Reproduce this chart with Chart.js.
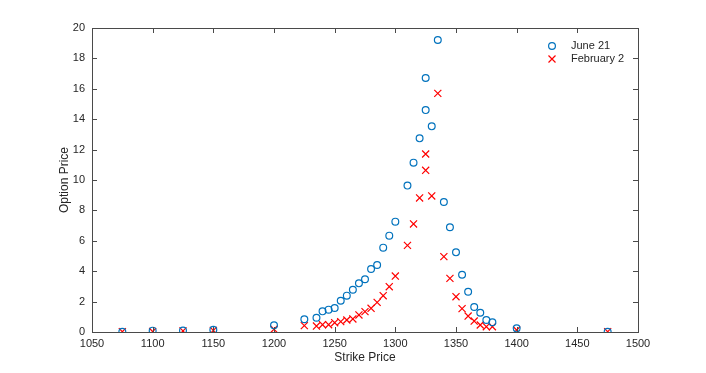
<!DOCTYPE html>
<html>
<head>
<meta charset="utf-8">
<script src="https://cdn.jsdelivr.net/npm/chart.js@4/dist/chart.umd.min.js"></script>
<style>
  html, body { margin: 0; padding: 0; background: #fff; }
  #wrap { width: 706px; height: 373px; }
</style>
</head>
<body>
<div id="wrap"><canvas id="chart"></canvas></div>
<script>
// strike prices (x) and option prices for the two dates
const strikes = [1075, 1100, 1125, 1150, 1200, 1225, 1235, 1240, 1245, 1250, 1255, 1260, 1265, 1270, 1275,
  1280, 1285, 1290, 1295, 1300, 1310, 1315, 1320, 1325, 1325, 1330, 1335, 1340, 1345, 1350, 1355,
  1360, 1365, 1370, 1375, 1380, 1400, 1475];
const june21 = [0.02, 0.09, 0.10, 0.14, 0.44, 0.84, 0.94, 1.36, 1.47, 1.58, 2.06, 2.39, 2.78, 3.20, 3.47,
  4.14, 4.41, 5.55, 6.34, 7.26, 9.63, 11.14, 12.74, 14.60, 16.71, 13.53, 19.21, 8.55, 6.89, 5.24, 3.77,
  2.65, 1.64, 1.27, 0.79, 0.64, 0.24, 0.02];
const feb2 = [0.02, 0.03, 0.07, 0.10, 0.18, 0.42, 0.39, 0.48, 0.48, 0.61, 0.68, 0.79, 0.86, 1.12, 1.34,
  1.56, 1.95, 2.39, 2.98, 3.68, 5.70, 7.11, 8.82, 10.64, 11.71, 8.95, 15.70, 4.96, 3.53, 2.32, 1.54,
  1.05, 0.72, 0.46, 0.35, 0.35, 0.13, 0.02];
const seriesNames = ['June 21', 'February 2'];
const xTicks = [1050, 1100, 1150, 1200, 1250, 1300, 1350, 1400, 1450, 1500];
const yTicks = [0, 2, 4, 6, 8, 10, 12, 14, 16, 18, 20];

const blue = 'rgb(0,114,189)';
const red = 'rgb(255,0,0)';
const axisColor = '#4a4a4a';
const textColor = '#262626';
const font = 'Liberation Sans, Arial, sans-serif';

// box around the plot with inward ticks on all four sides
const boxAxes = {
  id: 'boxAxes',
  afterDraw(chart) {
    const { ctx, chartArea: a, scales } = chart;
    const len = 5;
    ctx.save();
    ctx.strokeStyle = axisColor;
    ctx.lineWidth = 1;
    ctx.beginPath();
    xTicks.forEach((v) => {
      const px = Math.round(scales.x.getPixelForValue(v)) + 0.5;
      ctx.moveTo(px, a.bottom); ctx.lineTo(px, a.bottom - len);
      ctx.moveTo(px, a.top); ctx.lineTo(px, a.top + len);
    });
    yTicks.forEach((v) => {
      const py = Math.round(scales.y.getPixelForValue(v)) + 0.5;
      ctx.moveTo(a.left, py); ctx.lineTo(a.left + len, py);
      ctx.moveTo(a.right, py); ctx.lineTo(a.right - len, py);
    });
    ctx.stroke();
    ctx.strokeRect(Math.round(a.left) + 0.5, Math.round(a.top) + 0.5,
      Math.round(a.right - a.left), Math.round(a.bottom - a.top));
    ctx.restore();
  },
};

// legend inside the plot, top right, no box
const insideLegend = {
  id: 'insideLegend',
  afterDraw(chart) {
    const { ctx } = chart;
    const mx = 552, tx = 571;
    const rows = [46, 59];
    ctx.save();
    chart.data.datasets.forEach((ds, i) => {
      const y = rows[i];
      ctx.strokeStyle = ds.borderColor;
      ctx.lineWidth = 1.2;
      ctx.beginPath();
      if (i === 0) {
        ctx.arc(mx, y, 3.4, 0, Math.PI * 2);
      } else {
        ctx.moveTo(mx - 3.5, y - 3.5); ctx.lineTo(mx + 3.5, y + 3.5);
        ctx.moveTo(mx - 3.5, y + 3.5); ctx.lineTo(mx + 3.5, y - 3.5);
      }
      ctx.stroke();
      ctx.fillStyle = textColor;
      ctx.font = '11px ' + font;
      ctx.textBaseline = 'middle';
      ctx.textAlign = 'left';
      ctx.fillText(ds.label, tx, y);
    });
    ctx.restore();
  },
};

const data = {
  datasets: [
    {
      label: seriesNames[0],
      data: strikes.map((s, i) => ({ x: s, y: june21[i] })),
      borderColor: blue,
      backgroundColor: 'rgba(0,0,0,0)',
      pointStyle: 'circle',
      pointRadius: 3.4,
      pointBorderWidth: 1.2,
    },
    {
      label: seriesNames[1],
      data: strikes.map((s, i) => ({ x: s, y: feb2[i] })),
      borderColor: red,
      backgroundColor: 'rgba(0,0,0,0)',
      pointStyle: 'crossRot',
      pointRadius: 5,
      pointBorderWidth: 1.2,
    },
  ],
};

new Chart(document.getElementById('chart'), {
  type: 'scatter',
  data,
  options: {
    responsive: true,
    maintainAspectRatio: false,
    animation: false,
    layout: { padding: { left: 57, right: 68, top: 28, bottom: 8 } },
    plugins: {
      legend: { display: false },
      tooltip: { enabled: false },
    },
    scales: {
      x: {
        type: 'linear',
        min: 1050,
        max: 1500,
        afterBuildTicks: (scale) => { scale.ticks = xTicks.map((v) => ({ value: v })); },
        afterFit: (scale) => { scale.height = 33; },
        grid: { display: false, drawTicks: false },
        border: { display: false },
        ticks: {
          color: textColor,
          padding: 5,
          maxRotation: 0,
          font: { size: 11, family: font },
          callback: (v) => String(v),
        },
        title: {
          display: true,
          text: 'Strike Price',
          color: textColor,
          padding: 0,
          font: { size: 12, family: font },
        },
      },
      y: {
        min: 0,
        max: 20,
        afterBuildTicks: (scale) => { scale.ticks = yTicks.map((v) => ({ value: v })); },
        afterFit: (scale) => { scale.width = 35; },
        grid: { display: false, drawTicks: false },
        border: { display: false },
        ticks: {
          color: textColor,
          padding: 7,
          font: { size: 11, family: font },
          callback: (v) => String(v),
        },
        title: {
          display: true,
          text: 'Option Price',
          color: textColor,
          padding: 0,
          font: { size: 12, family: font },
        },
      },
    },
  },
  plugins: [boxAxes, insideLegend],
});
</script>
</body>
</html>
